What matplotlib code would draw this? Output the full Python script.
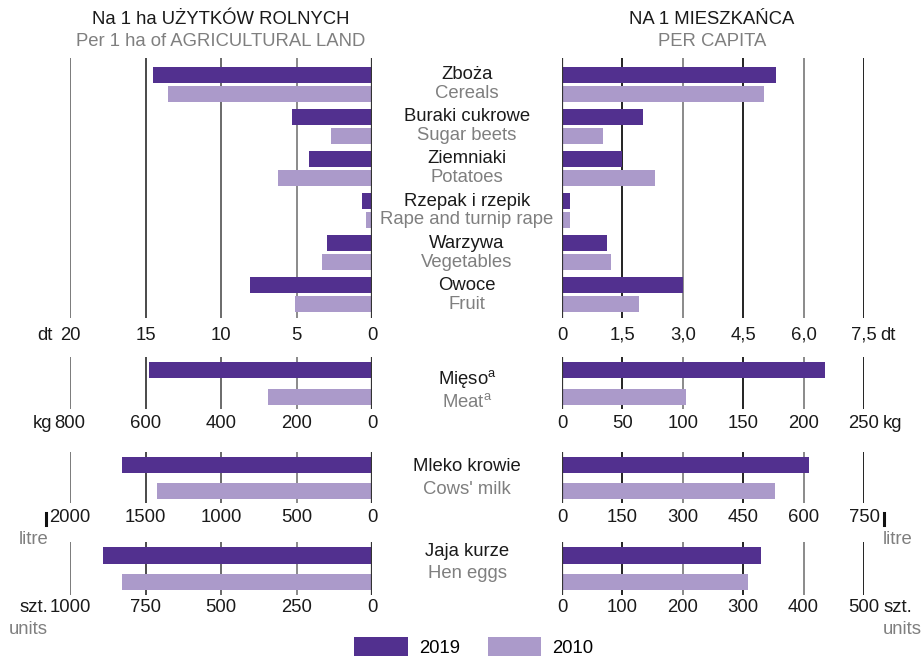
import matplotlib
matplotlib.use("Agg")
import matplotlib.pyplot as plt
from matplotlib.patches import Patch
from matplotlib.lines import Line2D
import matplotlib.transforms as mtrans

plt.rcParams['font.family'] = ['Liberation Sans', 'DejaVu Sans']
plt.rcParams['mathtext.fontset'] = 'custom'
plt.rcParams['mathtext.rm'] = 'Liberation Sans'
plt.rcParams['mathtext.it'] = 'Liberation Sans'

# ---------------- data ----------------
years = ['2019', '2010']
crops_pl = ['Zboża', 'Buraki cukrowe', 'Ziemniaki', 'Rzepak i rzepik', 'Warzywa', 'Owoce']
crops_en = ['Cereals', 'Sugar beets', 'Potatoes', 'Rape and turnip rape', 'Vegetables', 'Fruit']
crops_ha_2019 = [14.5, 5.3, 4.2, 0.65, 3.0, 8.1]
crops_ha_2010 = [13.5, 2.7, 6.2, 0.4, 3.3, 5.1]
crops_pc_2019 = [5.31, 2.0, 1.49, 0.2, 1.12, 3.0]
crops_pc_2010 = [5.02, 1.02, 2.31, 0.2, 1.22, 1.91]

meat_ha = [591, 275]
meat_pc = [218, 103]
milk_ha = [1656, 1424]
milk_pc = [613, 529]
eggs_ha = [891, 828]
eggs_pc = [329, 308]

crop_ha_ticks = [20, 15, 10, 5, 0]
crop_pc_ticks = [0, 1.5, 3.0, 4.5, 6.0, 7.5]
crop_pc_ticklabels = ['0', '1,5', '3,0', '4,5', '6,0', '7,5']
meat_ha_ticks = [800, 600, 400, 200, 0]
meat_pc_ticks = [0, 50, 100, 150, 200, 250]
milk_ha_ticks = [2000, 1500, 1000, 500, 0]
milk_pc_ticks = [0, 150, 300, 450, 600, 750]
eggs_ha_ticks = [1000, 750, 500, 250, 0]
eggs_pc_ticks = [0, 100, 200, 300, 400, 500]

C2019 = '#52308f'
C2010 = '#ab9aca'
GRAY_TXT = '#7f7f7f'
DARK_TXT = '#1a1a1a'
FS_LAB = 13.3
FS_TICK = 13.3

W, H = 922, 658
fig = plt.figure(figsize=(W / 100, H / 100), dpi=100)


def px_axes(x0, y0, x1, y1):
    return fig.add_axes([x0 / W, 1 - y1 / H, (x1 - x0) / W, (y1 - y0) / H])


def panel(ax, vals19, vals10, pos19, pos10, height, xmax, ylim, ticks, ticklabels,
          label_y_px, axes_top, axes_bot, invert, grid_colors):
    ax.set_xlim((xmax, 0) if invert else (0, xmax))
    ax.set_ylim(*ylim)
    ax.axis('off')
    for t, c in zip(ticks, grid_colors):
        if t == 0:
            continue
        ax.axvline(t, color=c, lw=1.4, zorder=0.5)
    ax.barh(pos19, vals19, height=height, color=C2019, zorder=2)
    ax.barh(pos10, vals10, height=height, color=C2010, zorder=2)
    ax.axvline(0, color='#333333', lw=1.6, zorder=3)
    yfrac = 1 - (label_y_px - axes_top) / (axes_bot - axes_top)
    tr = ax.get_xaxis_transform()
    for t, lab in zip(ticks, ticklabels):
        ax.text(t, yfrac, lab, transform=tr, ha='center', va='center',
                fontsize=FS_TICK, color=DARK_TXT, clip_on=False)
    return tr, yfrac


def unit_text(ax, tr, x, yfrac, s, dx, ha, color=DARK_TXT, dy=0):
    t2 = mtrans.offset_copy(tr, fig=fig, x=dx, y=-dy, units='dots')
    ax.text(x, yfrac, s, transform=t2, ha=ha, va='center', fontsize=FS_TICK,
            color=color, clip_on=False)


LX0, LX1 = 70, 372
RX0, RX1 = 562, 864
left_grid = ['#7a7a7a', '#4a4a4a', '#6a6a6a', '#8a8a8a', '#333333']
right_grid = ['#333333', '#222222', '#8a8a8a', '#222222', '#8a8a8a', '#222222']

# ---------------- crops ----------------
n = len(crops_pl)
p19 = [i for i in range(n)]
p10 = [i + 0.45 for i in range(n)]
cy0, cy1 = 58, 318
axl = px_axes(LX0, cy0, LX1, cy1)
tr, yf = panel(axl, crops_ha_2019, crops_ha_2010, p19, p10, 0.38, 20, (5.78, -0.4),
               crop_ha_ticks, [str(t) for t in crop_ha_ticks], 335, cy0, cy1, True, left_grid)
unit_text(axl, tr, 20, yf, 'dt', -17, 'right')
axr = px_axes(RX0, cy0, RX1, cy1)
tr, yf = panel(axr, crops_pc_2019, crops_pc_2010, p19, p10, 0.38, 7.5, (5.78, -0.4),
               crop_pc_ticks, crop_pc_ticklabels, 335, cy0, cy1, False, right_grid)
unit_text(axr, tr, 7.5, yf, 'dt', 16, 'left')

lab_tr = mtrans.blended_transform_factory(fig.transFigure, axr.transData)
for i in range(n):
    fig.text(467 / W, p19[i], crops_pl[i], transform=lab_tr, ha='center', va='center',
             fontsize=FS_LAB, color=DARK_TXT)
    fig.text(467 / W, p10[i], crops_en[i], transform=lab_tr, ha='center', va='center',
             fontsize=FS_LAB, color=GRAY_TXT)

# ---------------- single-product sections ----------------
sections = [
    (meat_ha, meat_pc, meat_ha_ticks, meat_pc_ticks, 357, 409, 423,
     'Mięso$^{\\rm a}$', 'Meat$^{\\rm a}$', (0.34, 1.2)),
    (milk_ha, milk_pc, milk_ha_ticks, milk_pc_ticks, 452, 503, 517,
     'Mleko krowie', "Cows' milk", (0.07, 0.96)),
    (eggs_ha, eggs_pc, eggs_ha_ticks, eggs_pc_ticks, 542, 595, 608,
     'Jaja kurze', 'Hen eggs', (-0.13, 0.68)),
]
axes_single = []
for k, (vha, vpc, tha, tpc, y0, y1, ly, pl, en, lpos) in enumerate(sections):
    al = px_axes(LX0, y0, LX1, y1)
    trl, yfl = panel(al, [vha[0]], [vha[1]], [0], [1], 0.6, tha[0], (1.47, -0.5),
                     tha, [str(t) for t in tha], ly, y0, y1, True, left_grid)
    ar = px_axes(RX0, y0, RX1, y1)
    trr, yfr = panel(ar, [vpc[0]], [vpc[1]], [0], [1], 0.6, tpc[-1], (1.47, -0.5),
                     tpc, [str(t) for t in tpc], ly, y0, y1, False, right_grid)
    ltr = mtrans.blended_transform_factory(fig.transFigure, ar.transData)
    fig.text(467 / W, lpos[0], pl, transform=ltr, ha='center', va='center',
             fontsize=FS_LAB, color=DARK_TXT)
    fig.text(467 / W, lpos[1], en, transform=ltr, ha='center', va='center',
             fontsize=FS_LAB, color=GRAY_TXT)
    axes_single.append((al, trl, yfl, ar, trr, yfr, ly))

# meat units
al, trl, yfl, ar, trr, yfr, ly = axes_single[0]
unit_text(al, trl, meat_ha_ticks[0], yfl, 'kg', -18, 'right')
unit_text(ar, trr, meat_pc_ticks[-1], yfr, 'kg', 19, 'left')

# milk units
al, trl, yfl, ar, trr, yfr, ly = axes_single[1]
for xpx in (46, 884):
    fig.add_artist(Line2D([xpx / W, xpx / W], [1 - 513 / H, 1 - 525 / H],
                          color='#111111', lw=2.2))
fig.text(34 / W, 1 - 540 / H, 'litre', ha='center', va='center', fontsize=FS_LAB, color=GRAY_TXT)
fig.text(883 / W, 1 - 540 / H, 'litre', ha='left', va='center', fontsize=FS_LAB, color=GRAY_TXT)

# eggs units
al, trl, yfl, ar, trr, yfr, ly = axes_single[2]
unit_text(al, trl, eggs_ha_ticks[0], yfl, 'szt.', -22, 'right')
unit_text(ar, trr, eggs_pc_ticks[-1], yfr, 'szt.', 20, 'left')
fig.text(28 / W, 1 - 629 / H, 'units', ha='center', va='center', fontsize=FS_LAB, color=GRAY_TXT)
fig.text(883 / W, 1 - 629 / H, 'units', ha='left', va='center', fontsize=FS_LAB, color=GRAY_TXT)

# ---------------- titles ----------------
fig.text(221 / W, 1 - 20 / H, 'Na 1 ha UŻYTKÓW ROLNYCH', ha='center', va='center',
         fontsize=FS_LAB, color=DARK_TXT)
fig.text(221 / W, 1 - 42 / H, 'Per 1 ha of AGRICULTURAL LAND', ha='center', va='center',
         fontsize=FS_LAB, color=GRAY_TXT)
fig.text(712 / W, 1 - 20 / H, 'NA 1 MIESZKAŃCA', ha='center', va='center',
         fontsize=FS_LAB, color=DARK_TXT)
fig.text(712 / W, 1 - 42 / H, 'PER CAPITA', ha='center', va='center',
         fontsize=FS_LAB, color=GRAY_TXT)

# ---------------- legend ----------------
handles = [Patch(facecolor=C2019), Patch(facecolor=C2010)]
fig.legend(handles, years, loc='center', bbox_to_anchor=(474 / W, 1 - 647 / H),
           ncol=2, frameon=False, fontsize=FS_TICK, handlelength=2.9, handleheight=1.2,
           handletextpad=0.6, columnspacing=1.5, borderpad=0.0)

fig.savefig('out.png', dpi=100)
